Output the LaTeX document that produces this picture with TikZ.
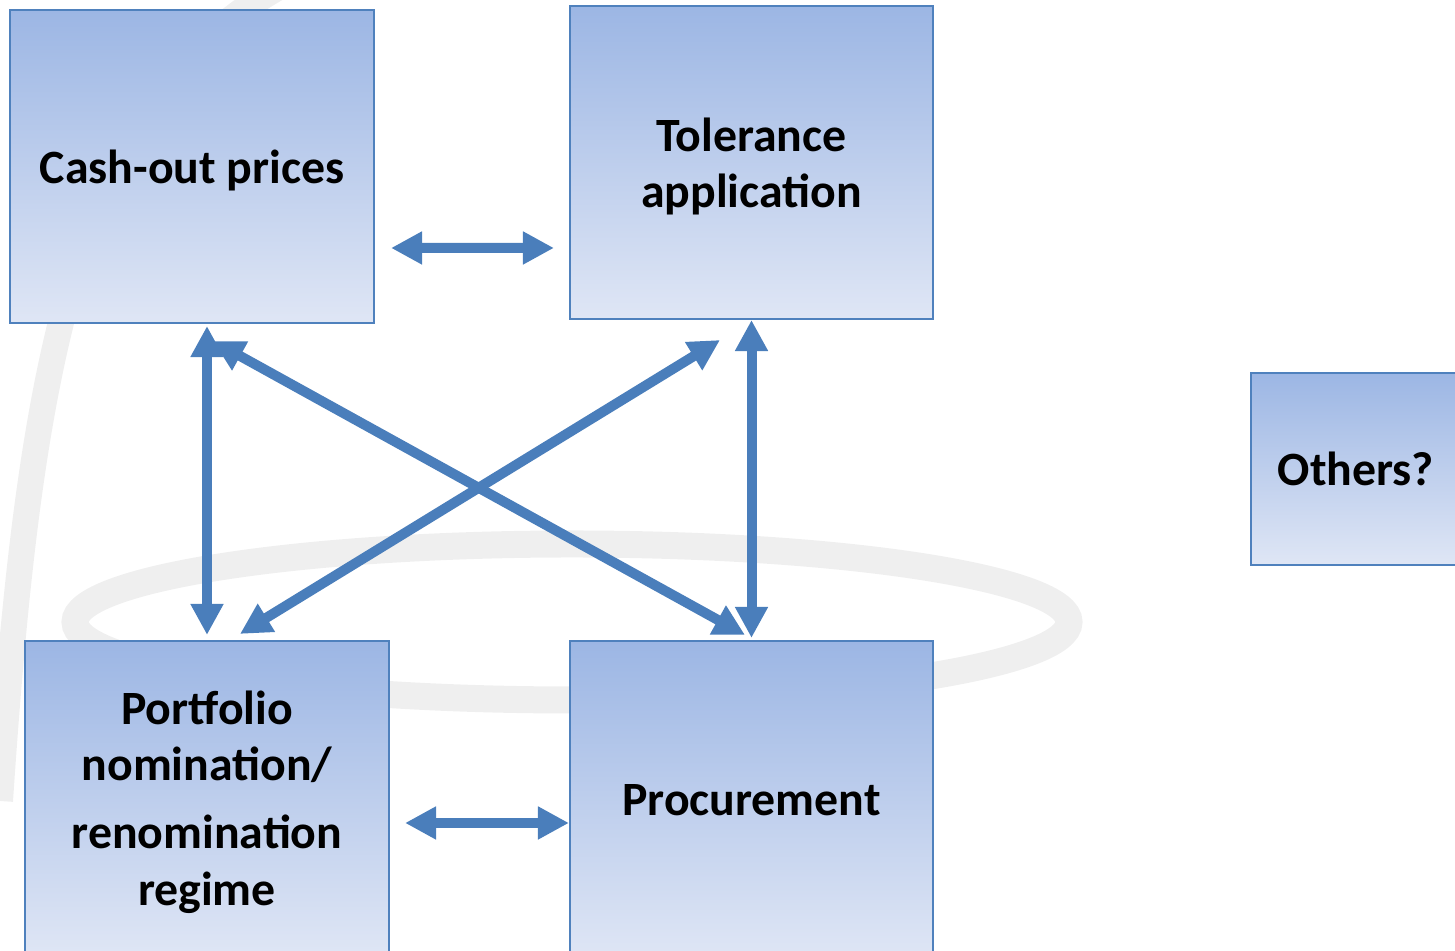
\documentclass[tikz,border=0pt]{standalone}
\usepackage{fontspec}
\setmainfont{Carlito}
\usetikzlibrary{arrows.meta,calc}

\definecolor{boxtop}{HTML}{9CB6E4}
\definecolor{boxbot}{HTML}{DFE6F5}
\definecolor{boxline}{HTML}{4F81BD}
\definecolor{linkblue}{HTML}{4A7EBB}
\definecolor{wmgray}{HTML}{EFEFEF}

\begin{document}
\begin{tikzpicture}[
  box/.style={draw=boxline, line width=0.6pt, top color=boxtop, bottom color=boxbot,
    inner sep=0pt},
  boxtext/.style={align=center, font=\fontsize{13.6}{16.2}\selectfont\bfseries},
  link/.style={linkblue, line width=0.1cm,
    {Triangle[length=0.31cm,width=0.31cm]}-{Triangle[length=0.31cm,width=0.31cm]}}
]

  \useasboundingbox (0,0) rectangle (14.55,9.51);
  \clip (0,0) rectangle (14.55,9.51);

  % faint logo behind everything
  \draw[wmgray, line width=0.27cm] (5.72,3.29) ellipse (4.97 and 0.78);
  \draw[wmgray, line width=0.26cm] (2.9,9.7) .. controls (0.8,8.6) and (0.3,6) .. (0.0,1.5);

  % Boxes
  \node[box, minimum width=3.64cm, minimum height=3.13cm,
    label={[boxtext, yshift=-0.04cm]center:Cash-out prices}] (cash) at (1.92,7.845) {};
  \node[box, minimum width=3.63cm, minimum height=3.13cm,
    label={[boxtext, yshift=-0.04cm]center:{Tolerance\\ application}}] (tol) at (7.515,7.885) {};
  \node[box, minimum width=3.64cm, minimum height=3.15cm,
    label={[boxtext, yshift=-0.035cm]center:{Portfolio\\ nomination/\\[3pt] renomination\\ regime}}]
    (port) at (2.07,1.525) {};
  \node[box, minimum width=3.63cm, minimum height=3.18cm,
    label={[boxtext]center:Procurement}] (proc) at (7.515,1.51) {};
  \node[box, minimum width=2.10cm, minimum height=1.92cm,
    label={[boxtext]center:Others?}] (others) at (13.56,4.82) {};

  % Links
  \draw[link] ($(cash.east)+(0.16,-0.815)$) -- ($(tol.west)+(-0.15,-0.855)$);
  \draw[link] ($(port.east)+(0.15,-0.245)$) -- ($(proc.west)+(0,-0.23)$);
  \draw[link] ([yshift=-0.02cm]port.north |- cash.south) -- ([yshift=0.05cm]port.north);
  \draw[link] (tol.south) -- ([yshift=0.02cm]proc.north);
  \draw[link] ($(cash.south)+(0.21,-0.17)$) -- ($(proc.north)+(-0.065,0.05)$);
  \draw[link] ($(tol.south)+(-0.315,-0.20)$) -- ($(port.north)+(0.33,0.06)$);

\end{tikzpicture}
\end{document}
